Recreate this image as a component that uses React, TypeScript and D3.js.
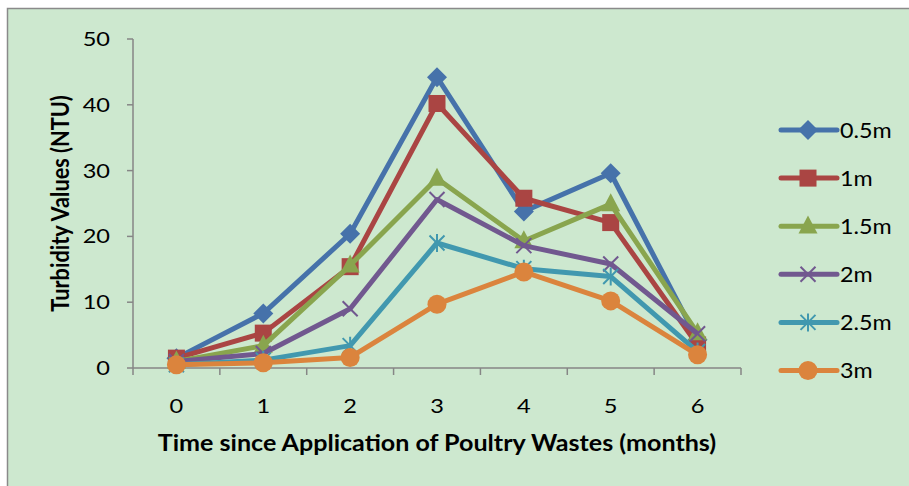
import * as d3 from 'd3'
import { useEffect, type ReactElement } from 'react'

// months since application
const months = [0, 1, 2, 3, 4, 5, 6]
const seriesNames = ['0.5m', '1m', '1.5m', '2m', '2.5m', '3m']
const turbidity05 = [1.5, 8.3, 20.4, 44.2, 23.8, 29.6, 4.3]
const turbidity10 = [1.5, 5.3, 15.4, 40.2, 25.8, 22.1, 3.5]
const turbidity15 = [1.0, 3.4, 15.6, 28.8, 19.3, 24.9, 5.3]
const turbidity20 = [1.0, 2.2, 9.0, 25.6, 18.6, 15.8, 5.2]
const turbidity25 = [0.5, 1.2, 3.4, 19.0, 15.1, 13.9, 2.5]
const turbidity30 = [0.5, 0.8, 1.6, 9.7, 14.6, 10.2, 2.0]
const yTicks = [0, 10, 20, 30, 40, 50]

const allSeries = [turbidity05, turbidity10, turbidity15, turbidity20, turbidity25, turbidity30]
const colors = ['#4672AA', '#AA4543', '#89A54E', '#71588F', '#4198AF', '#DB843D']
type MarkerKind = 'diamond' | 'square' | 'triangle' | 'x' | 'star' | 'circle'
const markers: MarkerKind[] = ['diamond', 'square', 'triangle', 'x', 'star', 'circle']

const width = 909
const height = 486
const plot = { left: 133, right: 741, top: 39, bottom: 368 }
const font = 'Lato, "Open Sans", sans-serif'

function Marker({ kind, x, y, color }: { kind: MarkerKind; x: number; y: number; color: string }): ReactElement {
  if (kind === 'diamond') {
    const r = 10
    return <path d={`M${x},${y - r}L${x + r},${y}L${x},${y + r}L${x - r},${y}Z`} fill={color} />
  }
  if (kind === 'square') {
    const s = 17
    return <rect x={x - s / 2} y={y - s / 2} width={s} height={s} fill={color} />
  }
  if (kind === 'triangle') {
    const h = 18
    const w = 19
    return <path d={`M${x},${y - h * 0.6}L${x + w / 2},${y + h * 0.4}L${x - w / 2},${y + h * 0.4}Z`} fill={color} />
  }
  if (kind === 'circle') {
    return <circle cx={x} cy={y} r={9.5} fill={color} />
  }
  const r = 7.5
  const cross = `M${x - r},${y - r}L${x + r},${y + r}M${x - r},${y + r}L${x + r},${y - r}`
  const d = kind === 'star' ? `${cross}M${x},${y - r * 1.2}L${x},${y + r * 1.2}` : cross
  return <path d={d} stroke={color} strokeWidth={2} fill="none" />
}

// horizontally stretched label, the source picture is a bit wider than it is tall
function Label({
  x,
  y,
  text,
  size,
  sx,
  anchor = 'start',
  bold = false,
}: {
  x: number
  y: number
  text: string
  size: number
  sx: number
  anchor?: 'start' | 'middle' | 'end'
  bold?: boolean
}): ReactElement {
  return (
    <text
      transform={`translate(${x},${y}) scale(${sx},1)`}
      dy="0.35em"
      textAnchor={anchor}
      fontFamily={font}
      fontSize={size}
      fontWeight={bold ? 'bold' : 'normal'}
      fill="#000"
    >
      {text}
    </text>
  )
}

export default function App(): ReactElement {
  useEffect(() => {
    document.body.style.margin = '0'
  }, [])

  const xScale = d3
    .scaleBand<number>()
    .domain(months)
    .range([plot.left, plot.right])
  const cx = (m: number) => (xScale(m) ?? 0) + xScale.bandwidth() / 2
  const yScale = d3.scaleLinear().domain([0, 50]).range([plot.bottom, plot.top])

  const line = d3
    .line<number>()
    .x((_, i) => cx(months[i]!))
    .y((d) => yScale(d))

  const axisColor = '#868686'
  const bandEdges = [...months.map((m) => xScale(m) ?? 0), plot.right]

  return (
    <svg width={width} height={height} style={{ position: 'absolute', left: 0, top: 0, display: 'block' }}>
      <rect x={0} y={0} width={width} height={height} fill="#ffffff" />
      <rect x={7.5} y={8.5} width={width + 10} height={height + 10} fill="#CDE8CF" stroke="#8a8a8a" strokeWidth={1.5} />

      {/* y axis */}
      <line x1={plot.left} x2={plot.left} y1={plot.top} y2={plot.bottom} stroke={axisColor} strokeWidth={1.5} />
      {yTicks.map((t) => (
        <g key={t}>
          <line x1={plot.left - 6} x2={plot.left} y1={yScale(t)} y2={yScale(t)} stroke={axisColor} strokeWidth={1.5} />
          <Label x={110} y={yScale(t)} text={String(t)} size={20} sx={1.18} anchor="end" />
        </g>
      ))}

      {/* x axis */}
      <line x1={plot.left} x2={plot.right} y1={plot.bottom} y2={plot.bottom} stroke={axisColor} strokeWidth={1.5} />
      {bandEdges.map((e, i) => (
        <line key={i} x1={e} x2={e} y1={plot.bottom} y2={plot.bottom + 7} stroke={axisColor} strokeWidth={1.5} />
      ))}
      {months.map((m) => (
        <Label key={m} x={cx(m)} y={406} text={String(m)} size={20} sx={1.18} anchor="middle" />
      ))}

      <Label
        x={(plot.left + plot.right) / 2}
        y={443}
        text="Time since Application of Poultry Wastes (months)"
        size={22}
        sx={1.14}
        anchor="middle"
        bold
      />
      <text
        transform={`translate(60,${(plot.top + plot.bottom) / 2}) rotate(-90) scale(1,1.14)`}
        dy="0.35em"
        textAnchor="middle"
        fontFamily={font}
        fontSize={21.7}
        fontWeight="bold"
        fill="#000"
      >
        Turbidity Values (NTU)
      </text>

      {/* series */}
      {allSeries.map((values, si) => (
        <g key={seriesNames[si]}>
          <path d={line(values) ?? ''} fill="none" stroke={colors[si]} strokeWidth={5} strokeLinejoin="round" />
          {values.map((v, i) => (
            <Marker key={i} kind={markers[si]!} x={cx(months[i]!)} y={yScale(v)} color={colors[si]!} />
          ))}
        </g>
      ))}

      {/* legend */}
      {seriesNames.map((name, i) => {
        const ly = 130 + i * 48.1
        return (
          <g key={name}>
            <line x1={781} x2={837} y1={ly} y2={ly} stroke={colors[i]} strokeWidth={5} strokeLinecap="round" />
            <Marker kind={markers[i]!} x={808} y={ly} color={colors[i]!} />
            <Label x={840} y={ly} text={name} size={22} sx={1.06} />
          </g>
        )
      })}
    </svg>
  )
}
